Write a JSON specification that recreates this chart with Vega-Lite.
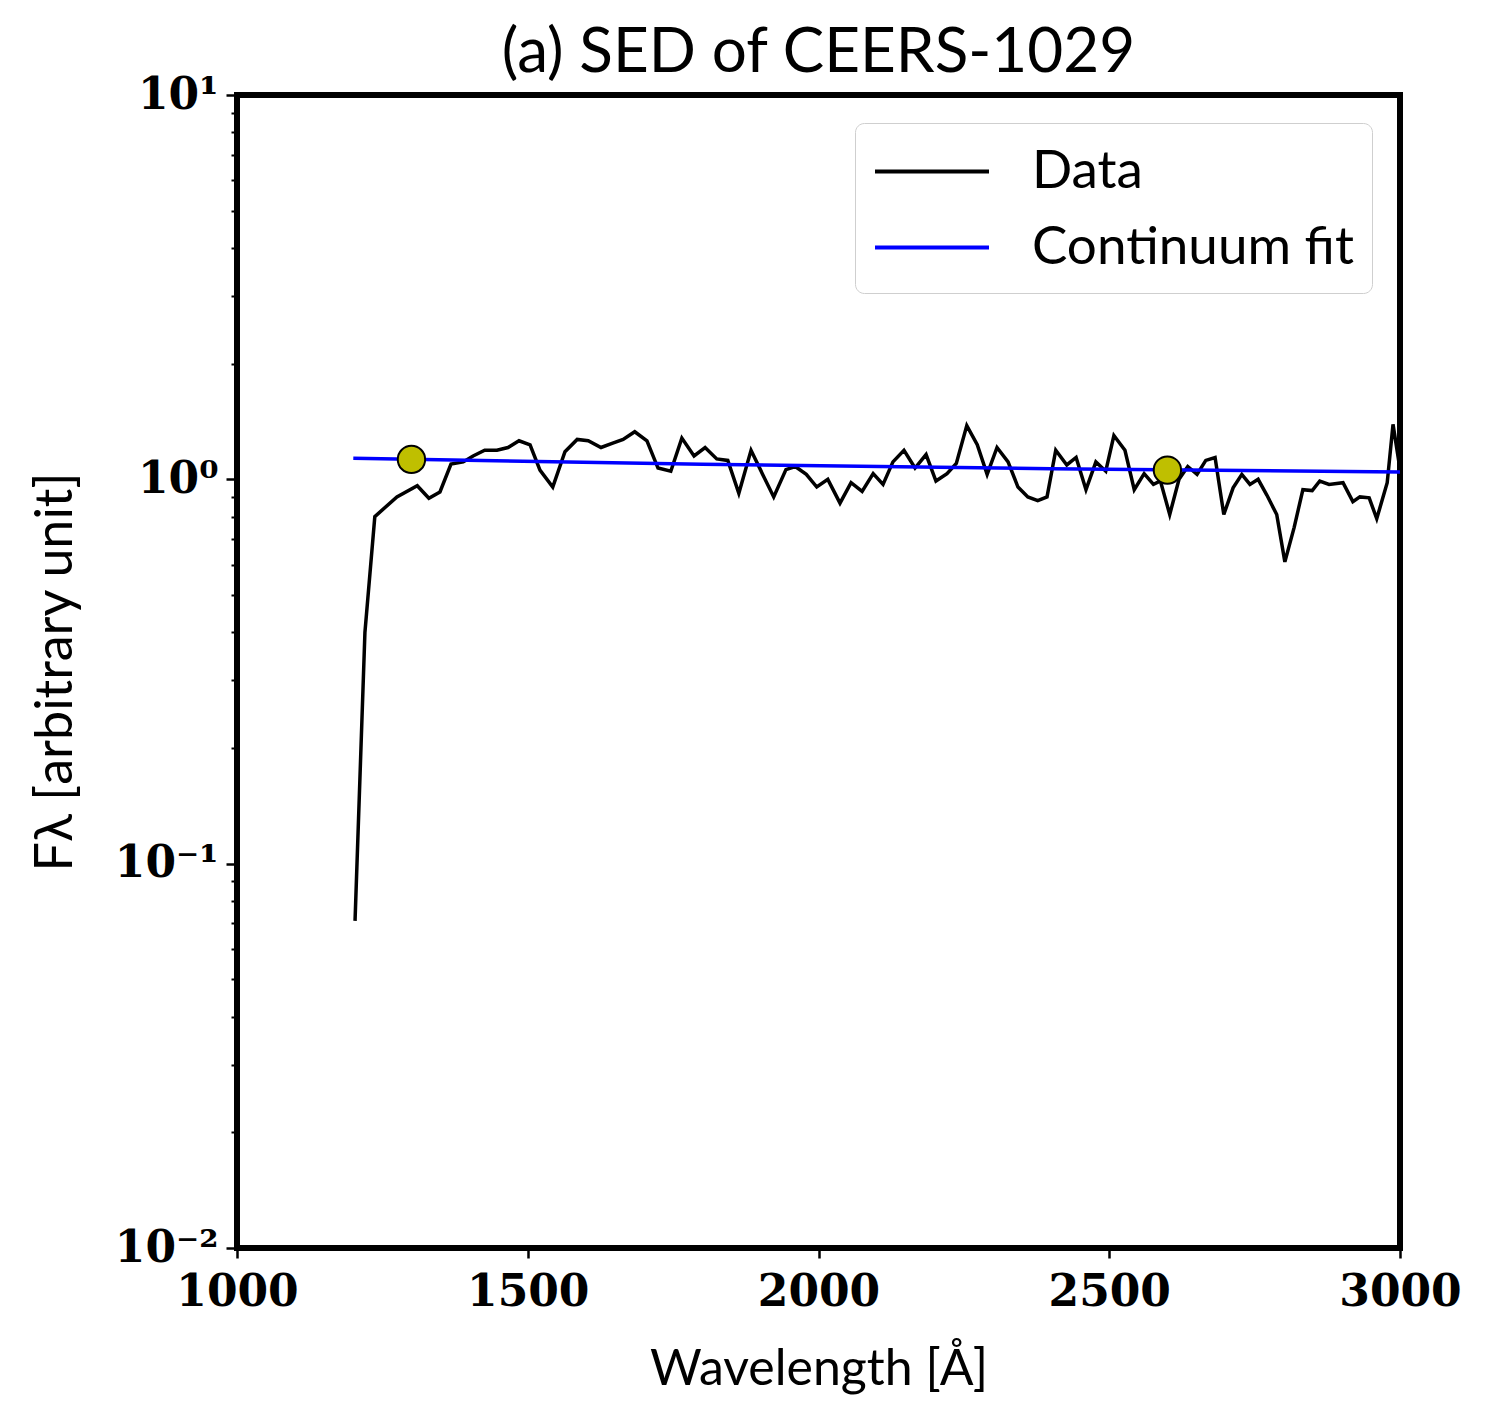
{
  "$schema": "https://vega.github.io/schema/vega-lite/v6.json",
  "width": 1163,
  "height": 1153,
  "autosize": "none",
  "padding": {"left": 237, "top": 95, "right": 87, "bottom": 176},
  "background": "white",
  "config": {
    "view": {"stroke": "black", "strokeWidth": 6},
    "axis": {"grid": false, "domain": false}
  },
  "title": {
    "text": "(a) SED of CEERS-1029",
    "font": "Lato",
    "fontSize": 62,
    "fontWeight": "normal",
    "color": "black",
    "anchor": "middle",
    "offset": -12
  },
  "datasets": {
    "sed": [
      {"lam": 1203, "flux": 0.071}, {"lam": 1220, "flux": 0.40}, {"lam": 1237, "flux": 0.80},
      {"lam": 1275, "flux": 0.90}, {"lam": 1310, "flux": 0.962}, {"lam": 1330, "flux": 0.893},
      {"lam": 1349, "flux": 0.927}, {"lam": 1368, "flux": 1.096}, {"lam": 1389, "flux": 1.11},
      {"lam": 1406, "flux": 1.15}, {"lam": 1426, "flux": 1.19}, {"lam": 1447, "flux": 1.19},
      {"lam": 1466, "flux": 1.21}, {"lam": 1485, "flux": 1.26}, {"lam": 1504, "flux": 1.23},
      {"lam": 1521, "flux": 1.057}, {"lam": 1543, "flux": 0.955}, {"lam": 1564, "flux": 1.18},
      {"lam": 1585, "flux": 1.27}, {"lam": 1604, "flux": 1.26}, {"lam": 1626, "flux": 1.21},
      {"lam": 1645, "flux": 1.24}, {"lam": 1664, "flux": 1.27}, {"lam": 1684, "flux": 1.33},
      {"lam": 1705, "flux": 1.26}, {"lam": 1724, "flux": 1.07}, {"lam": 1746, "flux": 1.05},
      {"lam": 1765, "flux": 1.28}, {"lam": 1786, "flux": 1.15}, {"lam": 1805, "flux": 1.21},
      {"lam": 1825, "flux": 1.13}, {"lam": 1844, "flux": 1.12}, {"lam": 1863, "flux": 0.92},
      {"lam": 1884, "flux": 1.19}, {"lam": 1904, "flux": 1.03}, {"lam": 1923, "flux": 0.90},
      {"lam": 1944, "flux": 1.06}, {"lam": 1960, "flux": 1.08}, {"lam": 1979, "flux": 1.03},
      {"lam": 1997, "flux": 0.955}, {"lam": 2016, "flux": 1.0}, {"lam": 2037, "flux": 0.867},
      {"lam": 2056, "flux": 0.98}, {"lam": 2075, "flux": 0.93}, {"lam": 2094, "flux": 1.035},
      {"lam": 2111, "flux": 0.97}, {"lam": 2128, "flux": 1.11}, {"lam": 2147, "flux": 1.19},
      {"lam": 2166, "flux": 1.07}, {"lam": 2185, "flux": 1.16}, {"lam": 2202, "flux": 0.99},
      {"lam": 2221, "flux": 1.035}, {"lam": 2237, "flux": 1.10}, {"lam": 2255, "flux": 1.38},
      {"lam": 2273, "flux": 1.23}, {"lam": 2290, "flux": 1.03}, {"lam": 2307, "flux": 1.21},
      {"lam": 2326, "flux": 1.11}, {"lam": 2343, "flux": 0.955}, {"lam": 2360, "flux": 0.90},
      {"lam": 2377, "flux": 0.88}, {"lam": 2393, "flux": 0.90}, {"lam": 2408, "flux": 1.19},
      {"lam": 2427, "flux": 1.09}, {"lam": 2443, "flux": 1.14}, {"lam": 2460, "flux": 0.94},
      {"lam": 2477, "flux": 1.11}, {"lam": 2494, "flux": 1.05}, {"lam": 2508, "flux": 1.30},
      {"lam": 2527, "flux": 1.19}, {"lam": 2543, "flux": 0.94}, {"lam": 2560, "flux": 1.035},
      {"lam": 2576, "flux": 0.97}, {"lam": 2588, "flux": 0.99}, {"lam": 2604, "flux": 0.81},
      {"lam": 2620, "flux": 1.0}, {"lam": 2635, "flux": 1.08}, {"lam": 2651, "flux": 1.03},
      {"lam": 2666, "flux": 1.12}, {"lam": 2682, "flux": 1.14}, {"lam": 2697, "flux": 0.81},
      {"lam": 2713, "flux": 0.95}, {"lam": 2728, "flux": 1.03}, {"lam": 2742, "flux": 0.97},
      {"lam": 2756, "flux": 1.0}, {"lam": 2771, "flux": 0.91}, {"lam": 2788, "flux": 0.81},
      {"lam": 2802, "flux": 0.61}, {"lam": 2818, "flux": 0.75}, {"lam": 2833, "flux": 0.94},
      {"lam": 2849, "flux": 0.935}, {"lam": 2862, "flux": 0.99}, {"lam": 2878, "flux": 0.97},
      {"lam": 2902, "flux": 0.98}, {"lam": 2919, "flux": 0.875}, {"lam": 2931, "flux": 0.90},
      {"lam": 2947, "flux": 0.895}, {"lam": 2960, "flux": 0.79}, {"lam": 2978, "flux": 0.98},
      {"lam": 2988, "flux": 1.39}, {"lam": 3005, "flux": 0.95}
    ],
    "fit": [
      {"lam": 1200, "flux": 1.135}, {"lam": 1800, "flux": 1.094},
      {"lam": 2400, "flux": 1.066}, {"lam": 3000, "flux": 1.045}
    ],
    "pts": [
      {"lam": 1300, "flux": 1.127}, {"lam": 2600, "flux": 1.057}
    ],
    "minor": [
      {"v": 0.02}, {"v": 0.03}, {"v": 0.04}, {"v": 0.05}, {"v": 0.06}, {"v": 0.07}, {"v": 0.08}, {"v": 0.09},
      {"v": 0.2}, {"v": 0.3}, {"v": 0.4}, {"v": 0.5}, {"v": 0.6}, {"v": 0.7}, {"v": 0.8}, {"v": 0.9},
      {"v": 2}, {"v": 3}, {"v": 4}, {"v": 5}, {"v": 6}, {"v": 7}, {"v": 8}, {"v": 9}
    ]
  },
  "layer": [
    {
      "data": {"name": "sed"},
      "mark": {"type": "line", "strokeWidth": 3.5, "clip": true},
      "encoding": {
        "x": {
          "field": "lam", "type": "quantitative",
          "scale": {"domain": [1000, 3000], "nice": false, "zero": false},
          "axis": {
            "values": [1000, 1500, 2000, 2500, 3000],
            "format": "d",
            "title": "Wavelength [Å]",
            "titleFont": "Lato", "titleFontSize": 50, "titleFontWeight": "normal", "titleColor": "black",
            "titlePadding": 30,
            "labelFont": "DejaVu Serif", "labelFontSize": 44, "labelFontWeight": "bold", "labelColor": "black",
            "labelPadding": 12, "labelFlush": false,
            "tickSize": 10, "tickWidth": 2.5, "tickColor": "black"
          }
        },
        "y": {
          "field": "flux", "type": "quantitative",
          "scale": {"type": "log", "domain": [0.01, 10], "nice": false},
          "axis": {
            "orient": "left",
            "values": [0.01, 0.1, 1, 10],
            "labelExpr": "datum.value >= 5 ? '10¹' : datum.value >= 0.5 ? '10⁰' : datum.value >= 0.05 ? '10⁻¹' : '10⁻²'",
            "title": "Fλ [arbitrary unit]",
            "titleFont": "Lato", "titleFontSize": 52, "titleFontWeight": "normal", "titleColor": "black",
            "titlePadding": 32,
            "labelFont": "DejaVu Serif", "labelFontSize": 44, "labelFontWeight": "bold", "labelColor": "black",
            "labelPadding": 8, "labelFlush": false,
            "tickSize": 11, "tickWidth": 2.5, "tickColor": "black"
          }
        },
        "color": {
          "datum": "Data",
          "scale": {"domain": ["Data", "Continuum fit"], "range": ["black", "#0000ff"]},
          "legend": {
            "title": null,
            "orient": "top-right",
            "offset": 28,
            "symbolType": "M-1,0H3",
            "symbolSize": 3249,
            "symbolStrokeWidth": 4,
            "symbolFillColor": "transparent",
            "labelFont": "Lato",
            "labelFontSize": 53,
            "labelColor": "black",
            "labelLimit": 1000,
            "labelOffset": 98,
            "rowPadding": 18,
            "padding": 18,
            "fillColor": "white",
            "strokeColor": "#cfcfcf",
            "cornerRadius": 9
          }
        }
      }
    },
    {
      "data": {"name": "fit"},
      "mark": {"type": "line", "strokeWidth": 3.5, "clip": true},
      "encoding": {
        "x": {"field": "lam", "type": "quantitative"},
        "y": {"field": "flux", "type": "quantitative", "axis": null},
        "color": {"datum": "Continuum fit"}
      }
    },
    {
      "data": {"name": "pts"},
      "mark": {"type": "point", "filled": true, "fill": "#bfbf00", "stroke": "black", "strokeWidth": 2, "size": 750, "opacity": 1},
      "encoding": {
        "x": {"field": "lam", "type": "quantitative"},
        "y": {"field": "flux", "type": "quantitative", "axis": null}
      }
    },
    {
      "data": {"name": "minor"},
      "mark": {"type": "point", "opacity": 0},
      "encoding": {
        "y": {
          "field": "v", "type": "quantitative",
          "axis": {
            "orient": "left",
            "values": [0.02, 0.03, 0.04, 0.05, 0.06, 0.07, 0.08, 0.09, 0.2, 0.3, 0.4, 0.5, 0.6, 0.7, 0.8, 0.9, 2, 3, 4, 5, 6, 7, 8, 9],
            "labels": false,
            "title": null,
            "tickSize": 6, "tickWidth": 2, "tickColor": "black"
          }
        }
      }
    }
  ],
  "resolve": {"axis": {"y": "independent"}}
}
